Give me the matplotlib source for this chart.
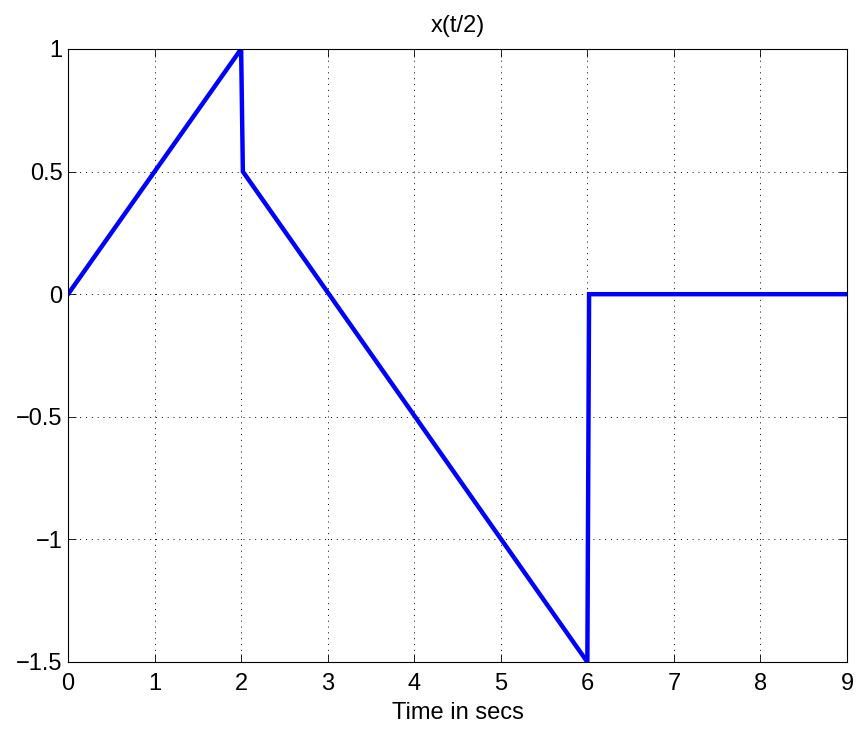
import numpy as np
import matplotlib
matplotlib.use('Agg')
from matplotlib import pyplot as plt

plt.rcParams['font.family'] = ['Liberation Sans', 'DejaVu Sans']

# time points and signal values of x(t/2)
t = [0, 2, 2.02, 6, 6.02, 9]
x = [0, 1, 0.5, -1.5, 0, 0]

xticks = [0, 1, 2, 3, 4, 5, 6, 7, 8, 9]
yticks = [-1.5, -1, -0.5, 0, 0.5, 1]
ylabels = ['\u22121.5', '\u22121', '\u22120.5', '0', '0.5', '1']

fig = plt.figure(figsize=(8.6, 7.31), dpi=100)
ax = fig.add_axes([0.0791, 0.0944, 0.9058, 0.8386])

ax.plot(t, x, color='#0000ff', linewidth=3.2, solid_joinstyle='miter')

ax.set_xlim(0, 9)
ax.set_ylim(-1.5, 1)
ax.set_xticks(xticks)
ax.set_xticklabels([str(v) for v in xticks])
ax.set_yticks(yticks)
ax.set_yticklabels(ylabels)
ax.tick_params(direction='in', length=6, width=0.6, labelsize=17,
               top=True, right=True)
ax.tick_params(axis='x', pad=8)
ax.tick_params(axis='y', pad=4)
ax.grid(True, color='black', linestyle=(0, (1, 5)), linewidth=0.7)
for s in ax.spines.values():
    s.set_linewidth(0.8)

ax.set_title('x(t/2)', fontsize=17, pad=12)
ax.set_xlabel('Time in secs', fontsize=17, labelpad=5)

fig.savefig('out.png', dpi=100)
